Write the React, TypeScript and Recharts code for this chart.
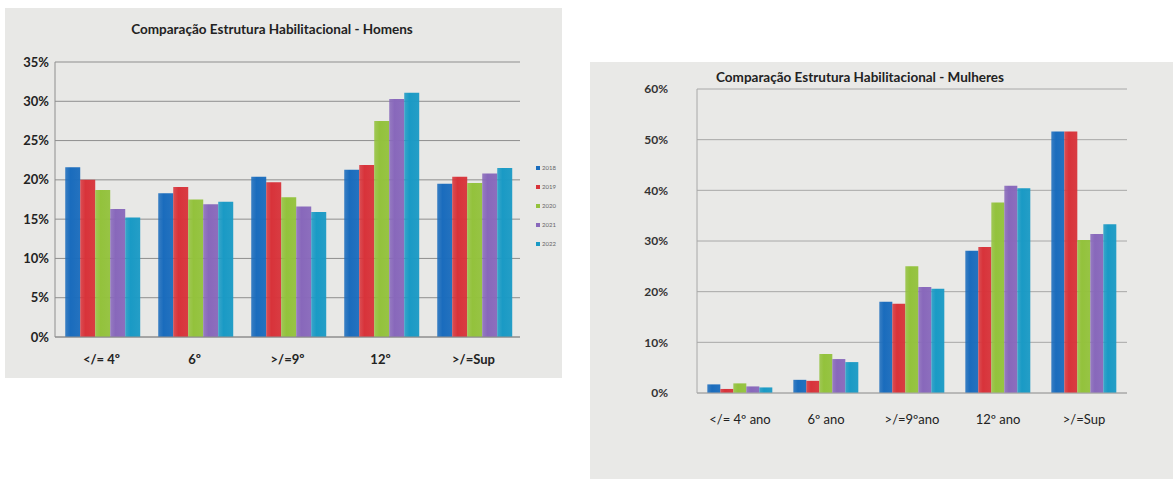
import { BarChart, Bar, XAxis, YAxis, CartesianGrid } from 'recharts';

const years = ['2018', '2019', '2020', '2021', '2022'];
const colors = ['#1a6cbd', '#d8333a', '#93c23c', '#8868bb', '#1a9ac5'];

const catHomens = ['</= 4º', '6º', '>/=9º', '12º', '>/=Sup'];
const h2018 = [21.6, 18.3, 20.4, 21.3, 19.5];
const h2019 = [20.0, 19.1, 19.7, 21.9, 20.4];
const h2020 = [18.7, 17.5, 17.8, 27.5, 19.6];
const h2021 = [16.3, 16.9, 16.6, 30.3, 20.8];
const h2022 = [15.2, 17.2, 15.9, 31.1, 21.5];
const ticksHomens = [0, 5, 10, 15, 20, 25, 30, 35];

const catMulheres = ['</= 4º ano', '6º ano', '>/=9ºano', '12º ano', '>/=Sup'];
const m2018 = [1.7, 2.6, 18.0, 28.1, 51.6];
const m2019 = [0.8, 2.4, 17.6, 28.8, 51.6];
const m2020 = [1.9, 7.7, 25.0, 37.6, 30.2];
const m2021 = [1.3, 6.7, 20.9, 40.9, 31.4];
const m2022 = [1.1, 6.1, 20.6, 40.4, 33.3];
const ticksMulheres = [0, 10, 20, 30, 40, 50, 60];

const buildRows = (cats: string[], series: number[][]) =>
  cats.map((c, i) => {
    const row: any = { cat: c };
    years.forEach((y, k) => (row[y] = series[k][i]));
    return row;
  });

const homens = buildRows(catHomens, [h2018, h2019, h2020, h2021, h2022]);
const mulheres = buildRows(catMulheres, [m2018, m2019, m2020, m2021, m2022]);

const font = 'Lato, "Liberation Sans", sans-serif';

// Excel-style shading across each bar
const Gradients = ({ prefix }: { prefix: string }) => (
  <defs>
    {colors.map((c, i) => (
      <linearGradient key={i} id={`${prefix}${i}`} x1="0" y1="0" x2="1" y2="0">
        <stop offset="0%" stopColor={c} stopOpacity={0.85} />
        <stop offset="35%" stopColor={c} stopOpacity={1} />
        <stop offset="100%" stopColor={c} stopOpacity={0.95} />
      </linearGradient>
    ))}
  </defs>
);

export default function App() {
  return (
    <div style={{ position: 'absolute', left: 0, top: 0, width: 1173, height: 479, background: '#fff', fontFamily: font }}>
      {/* Homens */}
      <div style={{ position: 'absolute', left: 5, top: 8, width: 557, height: 370, background: '#e8e8e6' }}>
        <div style={{ position: 'absolute', left: 0, width: 534, top: 13, textAlign: 'center', fontSize: 13.5, fontWeight: 700, color: '#222' }}>
          Comparação Estrutura Habilitacional - Homens
        </div>
        <BarChart
          width={557}
          height={370}
          data={homens}
          margin={{ top: 54, right: 42, left: 0, bottom: 11 }}
          barCategoryGap="11%"
          barGap={0}
        >
          <Gradients prefix="gh" />
          <CartesianGrid vertical={false} stroke="#8e8e8e" />
          <XAxis
            dataKey="cat"
            height={30}
            tickLine={false}
            stroke="#8e8e8e"
            tick={{ fill: '#222', fontSize: 13, fontWeight: 700, fontFamily: font }}
            tickMargin={12}
          />
          <YAxis
            width={50}
            domain={[0, 35]}
            ticks={ticksHomens}
            tickFormatter={(v) => `${v}%`}
            tickLine={false}
            tickSize={0}
            tickMargin={6}
            stroke="#8e8e8e"
            tick={{ fill: '#222', fontSize: 13, fontWeight: 700, fontFamily: font }}
          />
          {years.map((y, i) => (
            <Bar key={y} dataKey={y} fill={`url(#gh${i})`} isAnimationActive={false} />
          ))}
        </BarChart>
        <div style={{ position: 'absolute', left: 531, top: 150 }}>
          {years.map((y, i) => (
            <div key={y} style={{ display: 'flex', alignItems: 'center', height: 19, fontSize: 6, color: '#666' }}>
              <span style={{ width: 4, height: 4, background: colors[i], marginRight: 2, display: 'inline-block' }} />
              {y}
            </div>
          ))}
        </div>
      </div>

      {/* Mulheres */}
      <div style={{ position: 'absolute', left: 590, top: 62, width: 583, height: 417, background: '#e9e9e7' }}>
        <div style={{ position: 'absolute', left: 110, top: 7, width: 320, textAlign: 'center', fontSize: 13.5, fontWeight: 700, color: '#222' }}>
          Comparação Estrutura Habilitacional - Mulheres
        </div>
        <BarChart
          width={583}
          height={417}
          data={mulheres}
          margin={{ top: 27, right: 46, left: 0, bottom: 56 }}
          barCategoryGap="12%"
          barGap={0}
        >
          <Gradients prefix="gm" />
          <CartesianGrid vertical={false} stroke="#a8a8a8" />
          <XAxis
            dataKey="cat"
            height={30}
            tickLine={false}
            stroke="#a8a8a8"
            tick={{ fill: '#222', fontSize: 13, fontFamily: font }}
            tickMargin={16}
          />
          <YAxis
            width={107}
            domain={[0, 60]}
            ticks={ticksMulheres}
            tickFormatter={(v) => `${v}%`}
            tickLine={false}
            tickSize={0}
            tickMargin={29}
            stroke="#a8a8a8"
            tick={{ fill: '#333', fontSize: 12, fontWeight: 700, fontFamily: font }}
          />
          {years.map((y, i) => (
            <Bar key={y} dataKey={y} fill={`url(#gm${i})`} isAnimationActive={false} />
          ))}
        </BarChart>
      </div>
    </div>
  );
}
